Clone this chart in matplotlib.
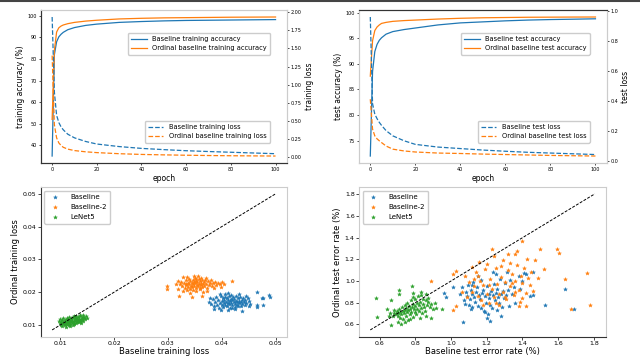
import matplotlib
matplotlib.use("Agg")
import matplotlib.pyplot as plt
from matplotlib.lines import Line2D
import numpy as np

epochs = [0, 1, 2, 3, 4, 5, 7, 10, 15, 20, 30, 40, 50, 60, 70, 80, 90, 100]

train_acc_base = [35.0, 82.0, 88.0, 90.3, 91.5, 92.4, 93.6, 94.6, 95.6, 96.2, 97.0, 97.4, 97.7, 97.9, 98.0, 98.1, 98.2, 98.3]
train_acc_ord = [52.0, 84.0, 92.5, 94.5, 95.3, 95.8, 96.4, 97.0, 97.6, 98.0, 98.6, 98.9, 99.1, 99.2, 99.3, 99.4, 99.45, 99.5]
train_loss_base = [1.93, 0.90, 0.58, 0.48, 0.42, 0.38, 0.32, 0.27, 0.22, 0.185, 0.15, 0.125, 0.108, 0.093, 0.082, 0.072, 0.062, 0.052]
train_loss_ord = [1.40, 0.45, 0.27, 0.20, 0.165, 0.14, 0.115, 0.095, 0.078, 0.067, 0.052, 0.042, 0.036, 0.031, 0.027, 0.024, 0.022, 0.02]

test_acc_base = [72.0, 88.5, 92.4, 93.8, 94.6, 95.1, 95.8, 96.3, 96.7, 97.0, 97.6, 98.0, 98.2, 98.4, 98.55, 98.65, 98.72, 98.8]
test_acc_ord = [87.6, 94.5, 96.5, 97.2, 97.6, 97.9, 98.1, 98.3, 98.45, 98.55, 98.75, 98.9, 99.0, 99.05, 99.1, 99.12, 99.14, 99.15]
test_loss_base = [0.96, 0.38, 0.31, 0.28, 0.255, 0.235, 0.20, 0.165, 0.132, 0.108, 0.09, 0.08, 0.07, 0.062, 0.055, 0.05, 0.045, 0.04]
test_loss_ord = [0.41, 0.21, 0.165, 0.145, 0.132, 0.12, 0.097, 0.076, 0.064, 0.057, 0.05, 0.047, 0.043, 0.04, 0.037, 0.034, 0.032, 0.03]

# final training loss per run: (baseline, ordinal)
loss_baseline = [
    (0.0465, 0.0201), (0.0474, 0.0181), (0.0487, 0.0191), (0.0490, 0.0186), (0.0465, 0.0161), (0.0465, 0.0154), (0.0476, 0.0161), (0.0477, 0.0181), (0.0437, 0.0143), (0.0376, 0.0171),
    (0.0380, 0.0165), (0.0383, 0.0178), (0.0385, 0.0158), (0.0388, 0.0170), (0.0390, 0.0184), (0.0392, 0.0162), (0.0394, 0.0175), (0.0395, 0.0153), (0.0397, 0.0168), (0.0398, 0.0189),
    (0.0400, 0.0160), (0.0401, 0.0173), (0.0402, 0.0181), (0.0403, 0.0156), (0.0404, 0.0166), (0.0405, 0.0177), (0.0406, 0.0194), (0.0407, 0.0162), (0.0408, 0.0171), (0.0409, 0.0183),
    (0.0410, 0.0157), (0.0411, 0.0168), (0.0412, 0.0176), (0.0413, 0.0187), (0.0414, 0.0163), (0.0415, 0.0172), (0.0416, 0.0151), (0.0417, 0.0180), (0.0418, 0.0167), (0.0419, 0.0175),
    (0.0420, 0.0160), (0.0421, 0.0185), (0.0422, 0.0170), (0.0423, 0.0178), (0.0424, 0.0155), (0.0425, 0.0165), (0.0426, 0.0173), (0.0427, 0.0190), (0.0428, 0.0161), (0.0429, 0.0169),
    (0.0430, 0.0181), (0.0431, 0.0158), (0.0432, 0.0174), (0.0433, 0.0166), (0.0434, 0.0186), (0.0435, 0.0171), (0.0436, 0.0159), (0.0437, 0.0177), (0.0438, 0.0165), (0.0440, 0.0183),
    (0.0441, 0.0170), (0.0443, 0.0161), (0.0444, 0.0176), (0.0446, 0.0168), (0.0448, 0.0181), (0.0450, 0.0173), (0.0453, 0.0164), (0.0386, 0.0150), (0.0399, 0.0147), (0.0412, 0.0145),
    (0.0425, 0.0148), (0.0396, 0.0196), (0.0411, 0.0199), (0.0418, 0.0192), (0.0432, 0.0195), (0.0445, 0.0189), (0.0378, 0.0183), (0.0451, 0.0157), (0.0407, 0.0186), (0.0420, 0.0152),
]
loss_baseline2 = [
    (0.0299, 0.0219), (0.0299, 0.0209), (0.0318, 0.0211), (0.0328, 0.0245), (0.0356, 0.0248), (0.0419, 0.0235), (0.0398, 0.0216), (0.0364, 0.0187), (0.0345, 0.0186), (0.0321, 0.0188),
    (0.0322, 0.0226), (0.0325, 0.0232), (0.0327, 0.0219), (0.0330, 0.0228), (0.0331, 0.0214), (0.0333, 0.0236), (0.0334, 0.0222), (0.0336, 0.0207), (0.0337, 0.0229), (0.0338, 0.0217),
    (0.0339, 0.0240), (0.0340, 0.0224), (0.0341, 0.0211), (0.0342, 0.0233), (0.0343, 0.0220), (0.0344, 0.0228), (0.0345, 0.0215), (0.0346, 0.0238), (0.0347, 0.0224), (0.0348, 0.0231),
    (0.0349, 0.0219), (0.0350, 0.0243), (0.0351, 0.0227), (0.0352, 0.0212), (0.0353, 0.0235), (0.0354, 0.0222), (0.0355, 0.0230), (0.0356, 0.0218), (0.0357, 0.0239), (0.0358, 0.0226),
    (0.0359, 0.0209), (0.0360, 0.0233), (0.0361, 0.0221), (0.0362, 0.0228), (0.0363, 0.0215), (0.0364, 0.0237), (0.0366, 0.0224), (0.0367, 0.0231), (0.0368, 0.0218), (0.0370, 0.0242),
    (0.0371, 0.0226), (0.0373, 0.0213), (0.0374, 0.0234), (0.0376, 0.0221), (0.0378, 0.0229), (0.0380, 0.0236), (0.0382, 0.0220), (0.0384, 0.0227), (0.0387, 0.0232), (0.0390, 0.0223),
    (0.0393, 0.0229), (0.0396, 0.0225), (0.0400, 0.0231), (0.0404, 0.0226), (0.0329, 0.0203), (0.0341, 0.0199), (0.0353, 0.0203), (0.0366, 0.0201), (0.0335, 0.0246), (0.0348, 0.0249),
    (0.0362, 0.0244), (0.0315, 0.0225), (0.0318, 0.0234), (0.0372, 0.0205), (0.0385, 0.0212), (0.0347, 0.0208), (0.0359, 0.0213), (0.0333, 0.0225), (0.0353, 0.0240), (0.0369, 0.0237),
]
loss_lenet5 = [
    (0.0097, 0.0112), (0.0099, 0.0105), (0.0100, 0.0118), (0.0101, 0.0109), (0.0102, 0.0101), (0.0103, 0.0114), (0.0104, 0.0107), (0.0105, 0.0120), (0.0106, 0.0110), (0.0107, 0.0103),
    (0.0108, 0.0116), (0.0109, 0.0099), (0.0110, 0.0112), (0.0111, 0.0106), (0.0112, 0.0121), (0.0113, 0.0109), (0.0114, 0.0102), (0.0115, 0.0115), (0.0116, 0.0108), (0.0117, 0.0124),
    (0.0118, 0.0111), (0.0119, 0.0097), (0.0120, 0.0117), (0.0121, 0.0105), (0.0122, 0.0113), (0.0123, 0.0120), (0.0124, 0.0108), (0.0125, 0.0127), (0.0126, 0.0102), (0.0127, 0.0115),
    (0.0128, 0.0111), (0.0129, 0.0122), (0.0130, 0.0106), (0.0131, 0.0118), (0.0132, 0.0112), (0.0133, 0.0125), (0.0134, 0.0109), (0.0135, 0.0119), (0.0136, 0.0114), (0.0137, 0.0129),
    (0.0138, 0.0116), (0.0139, 0.0107), (0.0140, 0.0121), (0.0141, 0.0117), (0.0142, 0.0125), (0.0143, 0.0113), (0.0144, 0.0120), (0.0146, 0.0118), (0.0147, 0.0126), (0.0149, 0.0122),
    (0.0104, 0.0098), (0.0110, 0.0095), (0.0116, 0.0100), (0.0123, 0.0099), (0.0112, 0.0117), (0.0118, 0.0119), (0.0124, 0.0123), (0.0130, 0.0128), (0.0136, 0.0132), (0.0113, 0.0103),
    (0.0119, 0.0104), (0.0125, 0.0106), (0.0131, 0.0110), (0.0137, 0.0111), (0.0115, 0.0110), (0.0121, 0.0112), (0.0127, 0.0118), (0.0133, 0.0115), (0.0108, 0.0106), (0.0142, 0.0131),
]

# test error rate (%) per run: (baseline, ordinal)
err_baseline = [
    (0.960, 0.886), (0.969, 0.853), (1.009, 0.946), (1.069, 0.624), (1.219, 0.630), (1.234, 1.087), (1.528, 0.780), (1.640, 0.925), (1.687, 0.741), (1.462, 0.871),
    (1.327, 0.765), (1.387, 0.922), (1.312, 1.081), (1.462, 1.081), (1.410, 1.075), (1.050, 0.880), (1.060, 0.940), (1.070, 0.820), (1.080, 0.790), (1.085, 0.900),
    (1.090, 0.860), (1.095, 0.960), (1.100, 0.780), (1.105, 0.830), (1.110, 0.920), (1.115, 0.880), (1.120, 0.760), (1.125, 0.990), (1.130, 0.850), (1.135, 0.810),
    (1.140, 0.900), (1.145, 0.940), (1.150, 0.770), (1.155, 0.870), (1.160, 0.830), (1.165, 1.010), (1.170, 0.750), (1.175, 0.890), (1.180, 0.920), (1.185, 0.720),
    (1.190, 0.860), (1.195, 0.800), (1.200, 0.950), (1.205, 0.690), (1.210, 0.880), (1.215, 0.840), (1.220, 0.780), (1.225, 0.910), (1.230, 0.750), (1.235, 0.870),
    (1.240, 0.970), (1.245, 0.820), (1.250, 0.890), (1.255, 0.730), (1.260, 0.930), (1.265, 0.850), (1.270, 0.800), (1.275, 1.020), (1.280, 0.880), (1.285, 0.760),
    (1.290, 0.910), (1.295, 0.840), (1.300, 0.980), (1.310, 0.870), (1.320, 0.920), (1.330, 1.010), (1.340, 0.880), (1.350, 0.940), (1.360, 0.800), (1.380, 1.050),
    (1.200, 0.660), (1.190, 0.710), (1.150, 1.050), (1.110, 0.740), (1.400, 1.000), (1.420, 1.060), (1.440, 0.860), (1.250, 1.060), (1.280, 0.680), (1.120, 0.960),
]
err_baseline2 = [
    (0.887, 1.000), (1.012, 0.735), (1.025, 0.765), (1.026, 1.090), (1.012, 1.066), (1.228, 1.298), (1.397, 1.367), (1.496, 1.298), (1.593, 1.292), (1.607, 1.262),
    (1.762, 1.075), (1.777, 0.774), (1.672, 0.744), (1.640, 1.021), (1.519, 1.111), (1.490, 1.027), (1.421, 0.765), (1.387, 0.810), (1.428, 1.202), (1.369, 1.277),
    (1.360, 1.253), (1.318, 1.247), (1.290, 1.196), (1.157, 1.171), (1.116, 1.126), (1.080, 1.050), (1.100, 0.990), (1.120, 0.900), (1.130, 0.950), (1.140, 1.080),
    (1.150, 0.860), (1.160, 1.000), (1.170, 0.820), (1.180, 0.960), (1.190, 1.110), (1.200, 0.880), (1.210, 0.800), (1.220, 1.020), (1.230, 0.930), (1.240, 0.850),
    (1.250, 1.120), (1.260, 0.970), (1.270, 0.780), (1.280, 1.040), (1.290, 0.900), (1.300, 0.990), (1.310, 0.830), (1.320, 1.100), (1.330, 0.950), (1.340, 1.060),
    (1.350, 0.870), (1.360, 1.000), (1.370, 1.150), (1.380, 0.920), (1.390, 1.050), (1.400, 0.980), (1.410, 1.120), (1.420, 0.890), (1.430, 1.030), (1.440, 0.960),
    (1.450, 1.080), (1.460, 0.910), (1.470, 1.190), (1.380, 0.770), (1.330, 1.170), (1.280, 1.140), (1.180, 0.780), (1.200, 1.160), (1.240, 1.230), (1.300, 0.850),
    (1.060, 0.900), (1.090, 0.850), (1.150, 1.050), (1.210, 0.960), (1.270, 0.880), (1.340, 0.980), (1.400, 0.840), (1.360, 0.900), (1.250, 0.800), (1.130, 1.020),
]
err_lenet5 = [
    (0.578, 0.840), (0.585, 0.666), (0.666, 0.826), (0.666, 0.591), (0.709, 0.916), (0.709, 0.880), (0.787, 0.885), (0.787, 0.849), (0.834, 0.900), (0.834, 0.870),
    (0.872, 0.840), (0.918, 0.750), (0.947, 0.741), (0.722, 0.600), (0.675, 0.675), (0.825, 0.660), (0.862, 0.675), (0.885, 0.660), (0.780, 0.950), (0.860, 0.820),
    (0.680, 0.700), (0.690, 0.690), (0.695, 0.720), (0.700, 0.680), (0.705, 0.700), (0.710, 0.740), (0.712, 0.660), (0.715, 0.710), (0.720, 0.690), (0.725, 0.760),
    (0.728, 0.720), (0.730, 0.650), (0.735, 0.700), (0.740, 0.780), (0.742, 0.730), (0.745, 0.680), (0.750, 0.750), (0.752, 0.710), (0.755, 0.800), (0.758, 0.640),
    (0.760, 0.730), (0.765, 0.770), (0.768, 0.690), (0.770, 0.740), (0.775, 0.820), (0.778, 0.710), (0.780, 0.760), (0.785, 0.670), (0.788, 0.790), (0.790, 0.740),
    (0.795, 0.710), (0.798, 0.830), (0.800, 0.770), (0.805, 0.690), (0.808, 0.800), (0.810, 0.740), (0.815, 0.860), (0.818, 0.720), (0.820, 0.780), (0.825, 0.810),
    (0.830, 0.750), (0.835, 0.700), (0.840, 0.790), (0.845, 0.830), (0.850, 0.760), (0.855, 0.720), (0.860, 0.880), (0.865, 0.780), (0.870, 0.810), (0.880, 0.760),
    (0.890, 0.790), (0.900, 0.740), (0.910, 0.800), (0.700, 0.620), (0.740, 0.620), (0.770, 0.650), (0.680, 0.730), (0.660, 0.700), (0.650, 0.680), (0.640, 0.740),
]

loss_diag = [0.0085, 0.050]
err_diag = [0.547, 1.806]

BLUE = "#1f77b4"
ORANGE = "#ff7f0e"
GREEN = "#2ca02c"

fig = plt.figure(figsize=(6.4, 3.59), dpi=100)
fig.add_artist(Line2D([0, 1], [0.997, 0.997], color="#444444", lw=1.5))


def style_spines(ax, dark=()):
    for name, sp in ax.spines.items():
        sp.set_color("#333333" if name in dark else "#cccccc")
        sp.set_linewidth(0.8)


def curve_panel(rect, acc_b, acc_o, loss_b, loss_o, what, dark):
    ax = fig.add_axes(rect)
    ax.plot(epochs, acc_b, color=BLUE, lw=0.9, label="Baseline %s accuracy" % what)
    ax.plot(epochs, acc_o, color=ORANGE, lw=0.9, label="Ordinal baseline %s accuracy" % what)
    ax.set_xlabel("epoch", fontsize=5.5, labelpad=1)
    ax.set_ylabel("%s accuracy (%%)" % what, fontsize=5.5, labelpad=2)
    ax.tick_params(labelsize=3.5, length=1.5, width=0.5, pad=1.5)
    ax.legend(loc="upper right", bbox_to_anchor=(0.945, 0.875), fontsize=4.8,
              handlelength=2.3, borderpad=0.5, labelspacing=0.5, framealpha=1)
    style_spines(ax, dark)
    ax2 = ax.twinx()
    ax2.plot(epochs, loss_b, color=BLUE, lw=0.9, ls="--", label="Baseline %s loss" % what)
    ax2.plot(epochs, loss_o, color=ORANGE, lw=0.9, ls="--", label="Ordinal baseline %s loss" % what)
    ax2.set_ylabel("%s loss" % what, fontsize=5.5, labelpad=2)
    ax2.tick_params(labelsize=3.5, length=1.5, width=0.5, pad=1.5)
    ax2.legend(loc="lower right", bbox_to_anchor=(0.945, 0.11), fontsize=4.8,
               handlelength=2.3, borderpad=0.5, labelspacing=0.5, framealpha=1)
    style_spines(ax2, dark)
    return ax


def scatter_panel(rect, series, diag, xlabel, ylabel, dark):
    ax = fig.add_axes(rect)
    for pts, col, name in series:
        arr = np.array(pts)
        ax.scatter(arr[:, 0], arr[:, 1], s=8, marker="*", color=col, linewidths=0.3, label=name)
    ax.plot(diag, diag, color="black", lw=0.7, ls=(0, (3, 1.5)))
    ax.set_xlabel(xlabel, fontsize=6, labelpad=0.5)
    ax.set_ylabel(ylabel, fontsize=6, labelpad=2)
    ax.tick_params(labelsize=4.5, length=2, width=0.5, pad=1.2)
    ax.legend(loc="upper left", fontsize=5, markerscale=1.0, borderpad=0.5,
              labelspacing=0.6, handletextpad=1.2, framealpha=1)
    style_spines(ax, dark)
    return ax


curve_panel([0.064, 0.546, 0.384, 0.426], train_acc_base, train_acc_ord,
            train_loss_base, train_loss_ord, "training", ("left", "bottom"))
curve_panel([0.561, 0.546, 0.387, 0.426], test_acc_base, test_acc_ord,
            test_loss_base, test_loss_ord, "test", ("top",))

scatter_panel([0.064, 0.062, 0.384, 0.417],
              [(loss_baseline, BLUE, "Baseline"), (loss_baseline2, ORANGE, "Baseline-2"),
               (loss_lenet5, GREEN, "LeNet5")],
              loss_diag, "Baseline training loss", "Ordinal training loss", ("left",))
scatter_panel([0.561, 0.062, 0.386, 0.417],
              [(err_baseline, BLUE, "Baseline"), (err_baseline2, ORANGE, "Baseline-2"),
               (err_lenet5, GREEN, "LeNet5")],
              err_diag, "Baseline test error rate (%)", "Ordinal test error rate (%)", ("bottom",))

fig.savefig("out.png", dpi=100)
